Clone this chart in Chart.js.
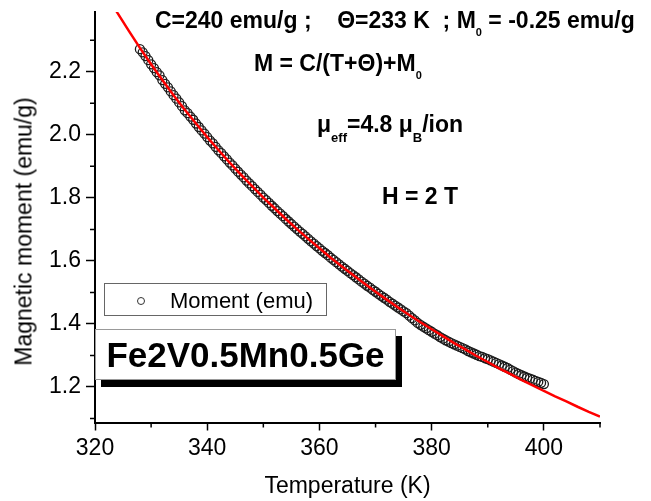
<!DOCTYPE html>
<html>
<head>
<meta charset="utf-8">
<script src="https://cdn.jsdelivr.net/npm/chart.js@4.4.1/dist/chart.umd.min.js"></script>
<style>
  body { margin: 0; background: #fff; }
  #wrap { position: relative; width: 651px; height: 501px; font-family: "Liberation Sans", Arial, sans-serif; color: #000; }
  #wrap canvas { position: absolute; left: 0; top: 0; }
  .note { position: absolute; font-weight: bold; font-size: 23px; line-height: 23px; white-space: pre; }
  .note sub { font-size: 11px; vertical-align: -8px; line-height: 0; }
  .note sub.big { font-size: 13px; vertical-align: -10px; }
  #ytitle { position: absolute; left: -176px; top: 220px; width: 400px; text-align: center; font-size: 23px; line-height: 23px; transform: rotate(-90deg); }
  #legend { position: absolute; left: 104px; top: 283px; width: 223px; height: 33px; box-sizing: border-box; border: 1px solid #666; background: #fff; }
  #legend .dot { position: absolute; left: 32px; top: 13px; width: 8px; height: 8px; box-sizing: border-box; border: 1px solid #333; border-radius: 50%; }
  #legend .lbl { position: absolute; left: 65px; top: 6px; font-size: 22px; line-height: 22px; white-space: pre; }
  #sample { position: absolute; left: 95px; top: 329px; width: 301px; height: 51px; box-sizing: border-box; border: 1px solid #999; background: #fff; box-shadow: 6px 7px 0 #000; font-weight: bold; font-size: 35px; line-height: 49px; text-align: center; }
</style>
</head>
<body>
<div id="wrap">
  <canvas id="chart"></canvas>
  <div id="ytitle">Magnetic moment (emu/g)</div>
  <div class="note" style="left:155px; top:9px;">C=240 emu/g ;    Θ=233 K  ; M<sub>0</sub> = -0.25 emu/g</div>
  <div class="note" style="left:254px; top:52px;">M = C/(T+Θ)+M<sub>0</sub></div>
  <div class="note" style="left:317px; top:113px;">μ<sub class="big">eff</sub>=4.8 μ<sub class="big">B</sub>/ion</div>
  <div class="note" style="left:382px; top:185px;">H = 2 T</div>
  <div id="legend"><div class="dot"></div><div class="lbl">Moment (emu)</div></div>
  <div id="sample">Fe2V0.5Mn0.5Ge</div>
</div>
<script>
// Datos medidos (T en K, M en emu/g)
const tempK = [
  328, 328.5, 329, 329.5, 330, 330.5, 331, 331.5, 332, 332.5,
  333, 333.5, 334, 334.5, 335, 335.5, 336, 336.5, 337, 337.5,
  338, 338.5, 339, 339.5, 340, 340.5, 341, 341.5, 342, 342.5,
  343, 343.5, 344, 344.5, 345, 345.5, 346, 346.5, 347, 347.5,
  348, 348.5, 349, 349.5, 350, 350.5, 351, 351.5, 352, 352.5,
  353, 353.5, 354, 354.5, 355, 355.5, 356, 356.5, 357, 357.5,
  358, 358.5, 359, 359.5, 360, 360.5, 361, 361.5, 362, 362.5,
  363, 363.5, 364, 364.5, 365, 365.5, 366, 366.5, 367, 367.5,
  368, 368.5, 369, 369.5, 370, 370.5, 371, 371.5, 372, 372.5,
  373, 373.5, 374, 374.5, 375, 375.5, 376, 376.5, 377, 377.5,
  378, 378.5, 379, 379.5, 380, 380.5, 381, 381.5, 382, 382.5,
  383, 383.5, 384, 384.5, 385, 385.5, 386, 386.5, 387, 387.5,
  388, 388.5, 389, 389.5, 390, 390.5, 391, 391.5, 392, 392.5,
  393, 393.5, 394, 394.5, 395, 395.5, 396, 396.5, 397, 397.5,
  398, 398.5, 399, 399.5, 400
];
const moment = [
  2.272, 2.262, 2.250, 2.237, 2.224, 2.212, 2.199, 2.189, 2.174, 2.162,
  2.151, 2.138, 2.126, 2.115, 2.103, 2.091, 2.078, 2.069, 2.058, 2.048,
  2.036, 2.025, 2.014, 2.004, 1.993, 1.982, 1.973, 1.962, 1.951, 1.942,
  1.932, 1.922, 1.912, 1.903, 1.893, 1.883, 1.874, 1.865, 1.855, 1.846,
  1.837, 1.828, 1.819, 1.810, 1.801, 1.793, 1.784, 1.775, 1.767, 1.758,
  1.750, 1.742, 1.733, 1.725, 1.717, 1.709, 1.701, 1.693, 1.686, 1.678,
  1.670, 1.662, 1.655, 1.647, 1.640, 1.632, 1.625, 1.618, 1.610, 1.603,
  1.596, 1.589, 1.582, 1.575, 1.568, 1.561, 1.555, 1.548, 1.541, 1.534,
  1.528, 1.521, 1.515, 1.508, 1.502, 1.495, 1.489, 1.483, 1.477, 1.470,
  1.464, 1.458, 1.452, 1.446, 1.440, 1.434, 1.426, 1.418, 1.411, 1.403,
  1.397, 1.391, 1.386, 1.380, 1.375, 1.369, 1.364, 1.358, 1.353, 1.348,
  1.344, 1.339, 1.335, 1.331, 1.327, 1.323, 1.319, 1.314, 1.310, 1.306,
  1.302, 1.298, 1.295, 1.291, 1.288, 1.284, 1.280, 1.276, 1.272, 1.268,
  1.264, 1.260, 1.255, 1.250, 1.245, 1.241, 1.237, 1.233, 1.229, 1.226,
  1.223, 1.219, 1.216, 1.213, 1.209
];

// Curva de ajuste (roja)
const fitT = [323, 324, 326, 328, 330, 332, 334, 336, 338, 340, 342, 344, 346, 348, 350,
  352, 354, 356, 358, 360, 362, 364, 366, 368, 370, 372, 374, 376, 378, 380,
  382, 384, 386, 388, 390, 392, 394, 396, 398, 400, 402, 404, 406, 408, 410];
const fitM = [2.417, 2.387, 2.331, 2.276, 2.224, 2.174, 2.126, 2.080, 2.036, 1.993, 1.952, 1.912, 1.874, 1.837, 1.801,
  1.767, 1.733, 1.701, 1.670, 1.640, 1.610, 1.582, 1.555, 1.528, 1.502, 1.477, 1.452, 1.428, 1.405, 1.383,
  1.361, 1.339, 1.319, 1.298, 1.279, 1.259, 1.241, 1.222, 1.205, 1.187, 1.170, 1.154, 1.137, 1.121, 1.106];

// Ticks menores (sin etiqueta)
const xMinorTicks = [330, 350, 370, 390, 410];
const yMinorTicks = [1.1, 1.3, 1.5, 1.7, 1.9, 2.1, 2.3];

Chart.defaults.font.family = '"Liberation Sans", Arial, sans-serif';
Chart.defaults.color = '#000';

const minorTicks = {
  id: 'minorTicks',
  afterDraw(chart) {
    const { ctx, scales: { x, y }, chartArea } = chart;
    ctx.save();
    ctx.strokeStyle = '#000';
    ctx.lineWidth = 1.5;
    ctx.beginPath();
    xMinorTicks.forEach(v => {
      const px = x.getPixelForValue(v);
      ctx.moveTo(px, chartArea.bottom);
      ctx.lineTo(px, chartArea.bottom + 5);
    });
    yMinorTicks.forEach(v => {
      const py = y.getPixelForValue(v);
      ctx.moveTo(chartArea.left, py);
      ctx.lineTo(chartArea.left - 5, py);
    });
    ctx.stroke();
    ctx.restore();
  }
};

const axisLine = { display: true, color: '#000', width: 2 };
const tickGrid = { drawOnChartArea: false, drawTicks: true, tickColor: '#000', tickWidth: 1.5 };

new Chart(document.getElementById('chart'), {
  type: 'scatter',
  data: {
    datasets: [
      {
        label: 'Fit',
        data: fitT.map((t, i) => ({ x: t, y: fitM[i] })),
        showLine: true,
        borderColor: '#ff0000',
        borderWidth: 2.5,
        pointRadius: 0,
        tension: 0,
      },
      {
        label: 'Moment (emu)',
        data: tempK.map((t, i) => ({ x: t, y: moment[i] })),
        pointStyle: 'circle',
        pointRadius: 4.5,
        borderWidth: 1.3,
        borderColor: '#1c1c1c',
        backgroundColor: 'rgba(255,255,255,0)',
      },
    ],
  },
  options: {
    responsive: true,
    maintainAspectRatio: false,
    animation: false,
    layout: { padding: { top: 12, right: 51, left: 0, bottom: 0 } },
    plugins: {
      legend: { display: false },
      tooltip: { enabled: false },
    },
    scales: {
      x: {
        type: 'linear',
        min: 320,
        max: 410,
        border: axisLine,
        grid: { ...tickGrid, tickLength: 8 },
        ticks: { stepSize: 20, includeBounds: false, maxRotation: 0, autoSkip: false, padding: 4, font: { size: 23 } },
        title: { display: true, text: 'Temperature (K)', font: { size: 23 }, padding: { top: 0, bottom: 1 } },
        afterFit(s) { s.height = 78.5; s.paddingLeft = 0; s.paddingRight = 0; },
      },
      y: {
        type: 'linear',
        min: 1.087,
        max: 2.39,
        border: axisLine,
        grid: { ...tickGrid, tickLength: 9 },
        ticks: { stepSize: 0.2, includeBounds: false, autoSkip: false, padding: 5, font: { size: 23 }, callback: v => v.toFixed(1) },
        afterFit(s) { s.width = 95; s.paddingTop = 0; s.paddingBottom = 0; },
      },
    },
  },
  plugins: [minorTicks],
});
</script>
</body>
</html>
